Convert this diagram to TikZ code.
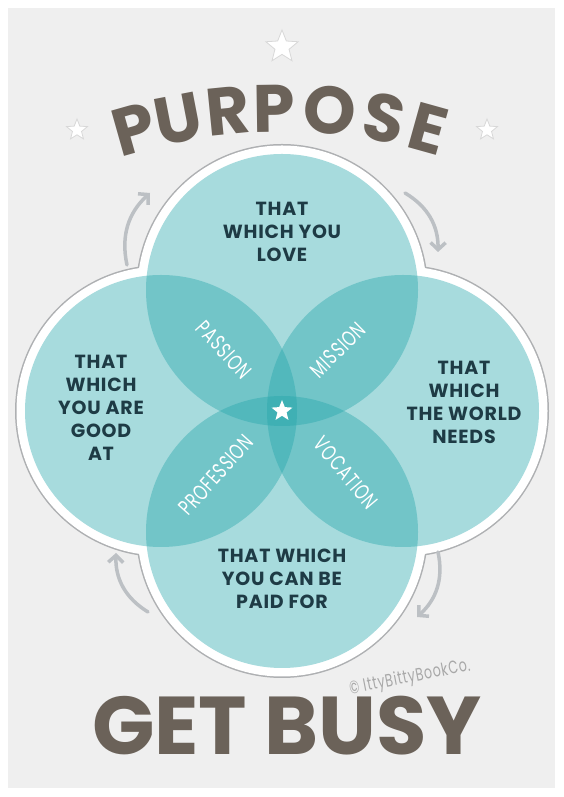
\documentclass[tikz,border=0pt]{standalone}
\usepackage{fontspec}
\setmainfont{Poppins}
\newfontfamily\areafont[LetterSpace=4]{Poppins}
\newfontfamily\petalfont[LetterSpace=6]{Poppins}
\usepackage{xcolor}
\usepackage{graphicx}
\usepackage{tikz}
\usetikzlibrary{arrows.meta,shapes.geometric,calc}

\definecolor{paper}{HTML}{EFEFEF}
\definecolor{petalteal}{RGB}{35,165,170}
\definecolor{ink}{HTML}{1E3B45}
\definecolor{rim}{HTML}{AEB0B2}
\definecolor{burlap}{HTML}{6B6259}
\definecolor{arrowgray}{HTML}{BCC0C4}
\definecolor{stargray}{HTML}{D8D8D8}
\definecolor{creditgray}{HTML}{A8A8A8}

\newcommand{\thin}[1]{\scalebox{0.7}[1]{#1}}

\begin{document}
\begin{tikzpicture}[x=1pt, y=1pt,
    disc/.style={fill=petalteal, fill opacity=0.4},
    areatext/.style={text=ink, font=\areafont\bfseries\fontsize{19}{23}\selectfont, align=center},
    petaltext/.style={text=white, font=\petalfont\fontsize{22}{22}\selectfont},
    titleletter/.style={text=burlap, font=\bfseries\fontsize{67}{67}\selectfont, anchor=base, inner sep=0pt},
    turn/.style={draw=arrowgray, line width=3.5pt, line cap=round, -{Straight Barb[length=7pt,width=15pt]}},
    sparkle/.style={star, star points=5, star point ratio=2.3, fill=white, draw=stargray, line width=0.8pt, inner sep=0pt},
  ]
  \fill[white] (0,0) rectangle (564,797);
  \fill[paper] (8,9) rectangle (555,789);

  \coordinate (ctr) at (282,386);
  \coordinate (ctop) at (282,507);
  \coordinate (cbot) at (282,265);
  \coordinate (cleft) at (161,386);
  \coordinate (cright) at (403,386);

  \foreach \c in {ctop,cbot,cleft,cright} \fill[rim] (\c) circle[radius=146pt];
  \foreach \c in {ctop,cbot,cleft,cright} \fill[white] (\c) circle[radius=144.5pt];
  \foreach \c in {ctop,cbot,cleft,cright} \fill[disc] (\c) circle[radius=136pt];

  \node[areatext] (love) at (282,565) {THAT\\WHICH YOU\\LOVE};
  \node[areatext] (good) at (101,389) {THAT\\WHICH\\YOU ARE\\GOOD\\AT};
  \node[areatext] (world) at (464,395) {THAT\\WHICH\\THE WORLD\\NEEDS};
  \node[areatext] (paid) at (282,218) {THAT WHICH\\YOU CAN BE\\PAID FOR};

  \node[petaltext, rotate=-48] (passion) at (224,447) {\thin{PASSION}};
  \node[petaltext, rotate=45] (mission) at (338,447) {\thin{MISSION}};
  \node[petaltext, rotate=48] (profession) at (216,322) {\thin{PROFESSION}};
  \node[petaltext, rotate=-50] (vocation) at (346,324) {\thin{VOCATION}};

  \node[sparkle, draw=none, minimum size=22pt] (core) at (ctr) {};
  \node[sparkle, minimum size=34pt] (startop) at (282,750) {};
  \node[sparkle, minimum size=22pt] (starleft) at (77,667) {};
  \node[sparkle, minimum size=22pt] (starright) at (487,667) {};

  \coordinate (arcmid) at (282,145);
  \foreach \ch/\a [count=\i] in {P/-15.8,U/-11.0,R/-5.7,P/-0.8,O/5.1,S/10.8,E/15.6}
    \node[titleletter, rotate={-(\a)}] (t\i) at ($(arcmid)+({90-\a}:520pt)$) {\ch};
  \node[titleletter, font=\bfseries\fontsize{82}{82}\selectfont] (busy) at (287,42) {GET BUSY};
  \node[text=creditgray, font=\petalfont\fontsize{18}{18}\selectfont, rotate=11] (credit) at (410,119) {\thin{© IttyBittyBookCo.}};

  \coordinate (tl1) at (127,532); \coordinate (tl2) at (150,604);
  \coordinate (tr1) at (405,604); \coordinate (tr2) at (438,545);
  \coordinate (br1) at (438,245); \coordinate (br2) at (417,180);
  \coordinate (bl1) at (148,185); \coordinate (bl2) at (116,244);
  \draw[turn] (tl1) to[bend left=30] (tl2);
  \draw[turn] (tr1) to[bend left=30] (tr2);
  \draw[turn] (br1) to[bend left=30] (br2);
  \draw[turn] (bl1) to[bend left=30] (bl2);
\end{tikzpicture}
\end{document}
